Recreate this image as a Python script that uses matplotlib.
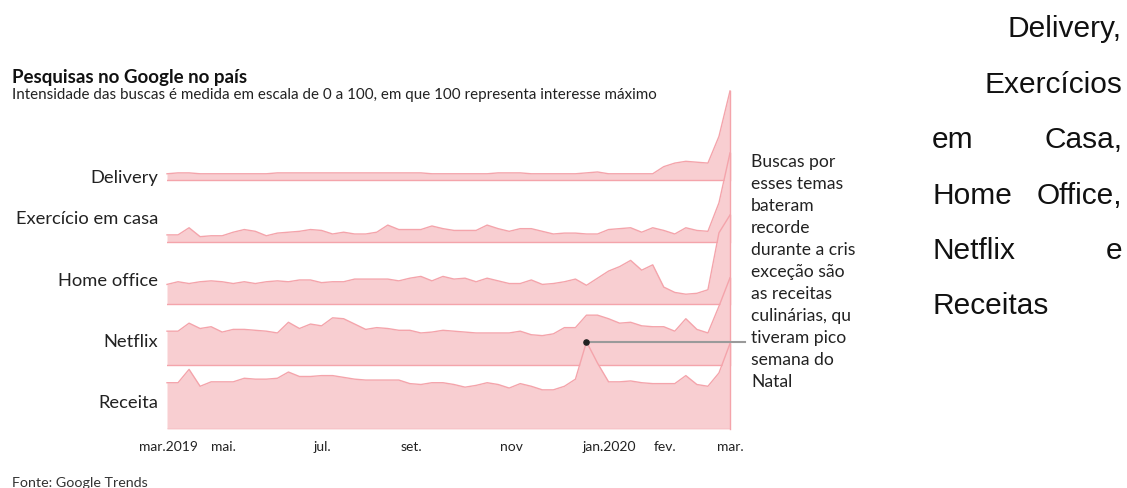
import matplotlib
matplotlib.use("Agg")
import matplotlib.pyplot as plt
import numpy as np

W, H = 1127, 489

# weekly Google Trends values (0-100), mar/2019 -> mar/2020
series = ["Delivery", "Exercício em casa", "Home office", "Netflix", "Receita"]

delivery = [7, 8, 8, 7, 7, 7, 7, 7, 7, 7, 8, 8, 8, 8, 8, 8, 8, 8,
            8, 8, 8, 8, 8, 8, 7, 7, 7, 7, 7, 7, 8, 8, 8, 7, 7,
            7, 7, 7, 8, 9, 7, 7, 7, 7, 7, 15, 19, 21, 20, 19, 49, 100]
exercicio = [8, 8, 16, 6, 7, 7, 11, 14, 12, 7, 10, 11, 12, 14, 13, 9, 11, 9,
             9, 11, 19, 14, 14, 14, 18, 15, 13, 13, 13, 19, 15, 12, 15, 15, 12,
             9, 10, 10, 9, 9, 14, 15, 16, 11, 16, 13, 9, 16, 13, 12, 44, 100]
home_office = [22, 25, 23, 25, 26, 25, 23, 25, 23, 25, 26, 25, 27, 27, 24, 25, 25, 28,
               28, 28, 28, 26, 29, 31, 26, 31, 28, 29, 25, 29, 26, 23, 23, 27, 22,
               23, 25, 28, 21, 29, 37, 42, 49, 38, 44, 19, 13, 11, 12, 16, 80, 100]
netflix = [38, 38, 47, 41, 43, 37, 40, 40, 39, 38, 36, 48, 41, 46, 44, 53, 52, 46,
           40, 42, 41, 39, 39, 36, 37, 39, 38, 37, 36, 36, 36, 36, 38, 34, 33,
           35, 42, 42, 56, 56, 52, 47, 48, 44, 43, 43, 38, 52, 40, 36, 66, 98]
receita = [52, 52, 67, 48, 53, 53, 53, 57, 56, 56, 57, 64, 59, 59, 60, 60, 58, 56,
           55, 55, 55, 55, 51, 50, 52, 52, 50, 47, 49, 52, 50, 46, 51, 48, 44,
           44, 48, 56, 98, 74, 53, 53, 54, 52, 51, 51, 51, 60, 50, 48, 63, 96]

values = [delivery, exercicio, home_office, netflix, receita]
weeks = np.arange(len(receita))

tick_labels = ["mar.2019", "mai.", "jul.", "set.", "nov", "jan.2020", "fev.", "mar."]
tick_pos = [0.1, 5.1, 14.1, 22.1, 31.2, 40.1, 45.1, 51]

natal_week = 38  # pico de receitas

# layout
scale = 0.89  # px per unit
offsets = [249 / scale, 187 / scale, 125 / scale, 64 / scale, 0]
label_y = [178, 219, 281, 342, 403]
fill_c = "#f8ced1"
edge_c = "#f4a4ab"
font = "Lato"


def fx(x):
    return x / W


def fy(y):
    return 1 - y / H


fig = plt.figure(figsize=(W / 100, H / 100), dpi=100)
ax = fig.add_axes([fx(167), fy(430), fx(730) - fx(167), (430 - 85) / H])
ax.set_xlim(0, 51)
ax.set_ylim(0, 345 / scale)

for i, (name, vals) in enumerate(zip(series, values)):
    base = offsets[i]
    top = np.array(vals) + base
    ax.fill_between(weeks, base, top, color=fill_c, lw=0, zorder=i * 2, clip_on=False)
    ax.plot(weeks, top, color=edge_c, lw=1, zorder=i * 2 + 1, clip_on=False)
    ax.plot([weeks[0], weeks[-1]], [base, base], color=edge_c, lw=1, zorder=i * 2 + 1)
    ax.plot([weeks[-1], weeks[-1]], [base, top[-1]], color=edge_c, lw=1, zorder=i * 2 + 1,
            clip_on=False)
    fig.text(fx(158), fy(label_y[i]), name, ha="right", va="center",
             fontsize=13.2, family=font, color="#222222")

# annotation on Christmas peak
ax.plot([natal_week, 52.4], [receita[natal_week], receita[natal_week]],
        color="#9a9a9a", lw=1.5, zorder=20, clip_on=False)
ax.scatter([natal_week], [receita[natal_week]], s=14, color="#222222", zorder=21,
           clip_on=False)

ax.set_xticks(tick_pos)
ax.set_xticklabels(tick_labels, family=font, fontsize=10, color="#222222")
ax.tick_params(axis="x", length=0, pad=8)
ax.set_yticks([])
for s in ax.spines.values():
    s.set_visible(False)

note = ("Buscas por\nesses temas\nbateram\nrecorde\ndurante a cris\nexceção são\n"
        "as receitas\nculinárias, qu\ntiveram pico\nsemana do\nNatal")
fig.text(fx(751), fy(154), note, ha="left", va="top", family=font, fontsize=12.6,
         linespacing=1.46, color="#222222")

fig.text(fx(12), fy(77), "Pesquisas no Google no país", ha="left", va="center",
         family=font, fontsize=13.5, weight="bold", color="#111111")
fig.text(fx(12), fy(95), "Intensidade das buscas é medida em escala de 0 a 100, em que 100 "
         "representa interesse máximo", ha="left", va="center", family=font,
         fontsize=10.9, color="#222222")
fig.text(fx(12), fy(483), "Fonte: Google Trends", ha="left", va="center",
         family=font, fontsize=10.3, color="#333333")

# right side text (justified paragraph)
rf = dict(family="Liberation Sans", fontsize=21.5, va="baseline", color="#111111")
fig.text(fx(1122), fy(37), "Delivery,", ha="right", **rf)
fig.text(fx(1122), fy(93), "Exercícios", ha="right", **rf)
fig.text(fx(932), fy(148), "em", ha="left", **rf)
fig.text(fx(1122), fy(148), "Casa,", ha="right", **rf)
fig.text(fx(932), fy(204), "Home", ha="left", **rf)
fig.text(fx(1122), fy(204), "Office,", ha="right", **rf)
fig.text(fx(932), fy(259), "Netflix", ha="left", **rf)
fig.text(fx(1122), fy(259), "e", ha="right", **rf)
fig.text(fx(932), fy(314), "Receitas", ha="left", **rf)

fig.savefig("out.png", dpi=100)
